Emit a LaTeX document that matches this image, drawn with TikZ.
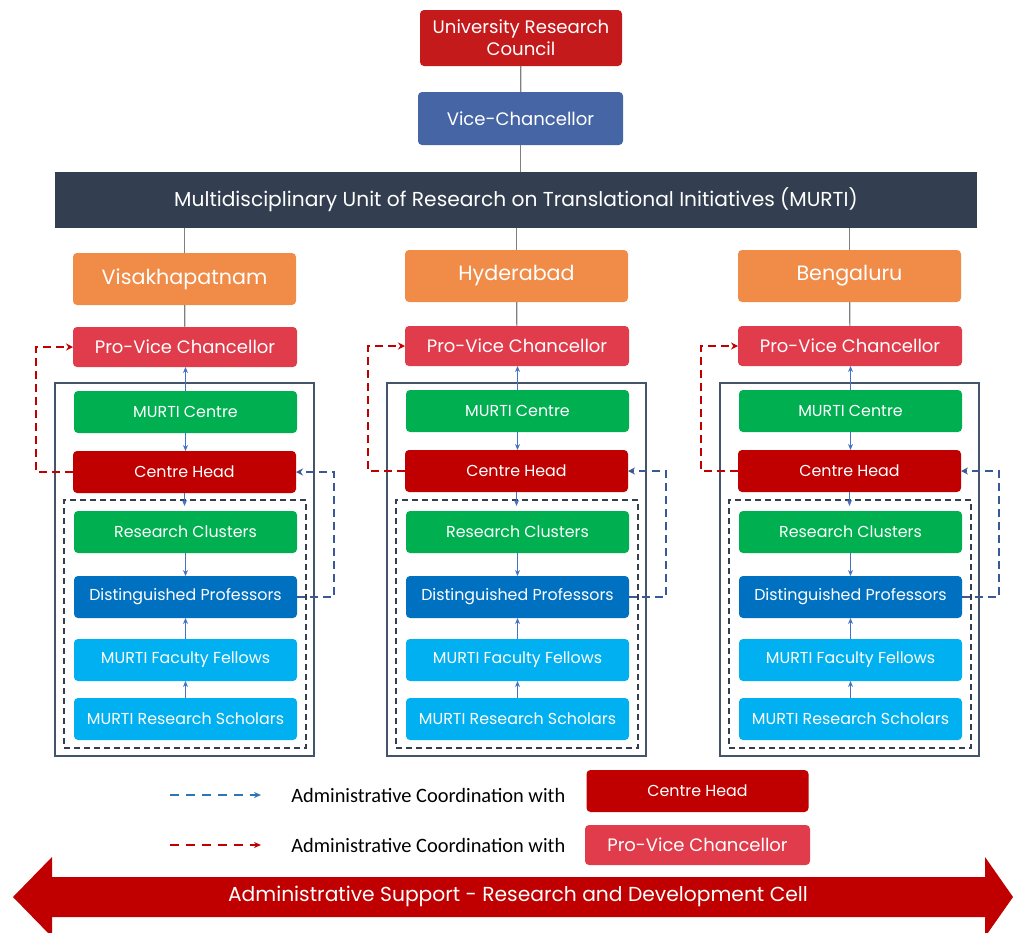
\documentclass[tikz,border=0pt]{standalone}
\usepackage{fontspec}
\setmainfont{Poppins}
\newfontfamily\legfont{Carlito}
\usetikzlibrary{arrows.meta}
\definecolor{urcred}{HTML}{C41A1B}
\definecolor{vcblue}{HTML}{4565A5}
\definecolor{barslate}{HTML}{333F50}
\definecolor{cityorange}{HTML}{F08C48}
\definecolor{pvcred}{HTML}{E03C4B}
\definecolor{mgreen}{HTML}{00B050}
\definecolor{chred}{HTML}{C00000}
\definecolor{dpblue}{HTML}{0070C0}
\definecolor{lblue}{HTML}{00B0F0}
\definecolor{outerline}{HTML}{44546A}
\definecolor{arrblue}{HTML}{4472C4}
\definecolor{dashblue}{HTML}{3A5894}
\definecolor{legblue}{HTML}{2E75B6}
\definecolor{greyline}{HTML}{7F7F7F}
\begin{document}
\begin{tikzpicture}[x=0.75pt,y=-0.75pt,
  box/.style={rounded corners=3pt, inner sep=0pt, outer sep=0pt, text=white, align=center},
  smallbox/.style={box, minimum width=167.25pt, minimum height=31.5pt, font=\fontsize{11.9}{14}\selectfont},
  greyconn/.style={draw=greyline, line width=0.9pt},
  sarr/.style={draw=arrblue, line width=0.75pt, -{Stealth[length=4.5pt,width=3.75pt]}},
  reddash/.style={draw=chred, line width=1.5pt, dash pattern=on 6pt off 3.75pt, -{Stealth[length=5.25pt,width=5.25pt]}},
  bluedash/.style={draw=dashblue, line width=1.5pt, dash pattern=on 6pt off 3.75pt, -{Stealth[length=5.25pt,width=5.25pt]}},
  outerbox/.style={draw=outerline, line width=1.125pt, inner sep=0pt, outer sep=0pt},
  innerbox/.style={draw=barslate, line width=1.125pt, dash pattern=on 4.5pt off 3pt, inner sep=0pt, outer sep=0pt},
]
\useasboundingbox (0,0) rectangle (1013,932);
\clip (0,0) rectangle (1013,932);

% top chain
\node[box, fill=urcred, minimum width=151.5pt, minimum height=42pt, font=\fontsize{13.6}{16.5}\selectfont] (urc) at (521,38) {University Research\\Council};
\node[box, fill=vcblue, minimum width=153.75pt, minimum height=39.75pt, font=\fontsize{13.55}{15}\selectfont] (vc) at (520.5,118.5) {Vice-Chancellor};
\node[box, rounded corners=0pt, fill=barslate, minimum width=691.5pt, minimum height=42pt, font=\fontsize{15.15}{18}\selectfont] (bar) at (516,200) {Multidisciplinary Unit of Research on Translational Initiatives (MURTI)};
\draw[greyconn] (urc) -- (vc);
\draw[greyconn] (vc.south) -- (vc.south |- bar.north);

\foreach \c/\cx/\dy/\city/\cy in {a/184.5/1/Visakhapatnam/279, b/516.5/0/Hyderabad/276, c/849.5/0/Bengaluru/276} {
  \node[box, fill=cityorange, minimum width=167.25pt, minimum height=39pt, font=\fontsize{15.5}{18}\selectfont] (city\c) at (\cx,\cy) {\city};
  \node[box, fill=pvcred, minimum width=168pt, minimum height=30pt, font=\fontsize{13.5}{15}\selectfont] (pvc\c) at (\cx+0.5,346+\dy) {Pro-Vice Chancellor};
  \node[outerbox, minimum width=194.25pt, minimum height=279.75pt] (outer\c) at (\cx,569.5) {};
  \node[innerbox, minimum width=181.5pt, minimum height=186pt] (dbox\c) at (\cx+0.5,624) {};
  \node[smallbox, fill=mgreen] (mc\c) at (\cx+1,411+\dy) {MURTI Centre};
  \node[smallbox, fill=chred] (ch\c) at (\cx,471+\dy) {Centre Head};
  \node[smallbox, fill=mgreen] (rc\c) at (\cx+1,532) {Research Clusters};
  \node[smallbox, fill=dpblue] (dp\c) at (\cx+1,597) {Distinguished Professors};
  \node[smallbox, fill=lblue] (mff\c) at (\cx+1,660) {MURTI Faculty Fellows};
  \node[smallbox, fill=lblue] (mrs\c) at (\cx+1,719) {MURTI Research Scholars};
  \coordinate (rx\c) at (\cx-148.5,400);
  \coordinate (bx\c) at (\cx+149.5,530);
  \draw[greyconn] (city\c.north) -- (city\c.north |- bar.south);
  \draw[greyconn] (city\c) -- (pvc\c);
  \draw[sarr] (mc\c) -- (mc\c |- pvc\c.south);
  \draw[sarr] (mc\c) -- (mc\c |- ch\c.north);
  \draw[sarr, shorten >=-4.5pt] (ch\c.south) -- (ch\c.south |- dbox\c.north);
  \draw[sarr] (rc\c) -- (dp\c);
  \draw[sarr] (mff\c) -- (dp\c);
  \draw[sarr] (mrs\c) -- (mff\c);
  \draw[reddash] (ch\c.west) -| (rx\c) |- (pvc\c.west);
  \draw[bluedash] (dp\c.east) -| (bx\c) |- (ch\c.east);
}

% legend
\coordinate (lb1) at (170,795);
\coordinate (lb2) at (261,795);
\coordinate (lr1) at (170,845);
\coordinate (lr2) at (261,845);
\draw[draw=legblue, line width=1.6pt, dash pattern=on 6.75pt off 5.25pt, -{Stealth[length=5.25pt,width=4.5pt]}] (lb1) -- (lb2);
\draw[draw=chred, line width=1.6pt, dash pattern=on 6.75pt off 5.25pt, -{Stealth[length=5.25pt,width=4.5pt]}] (lr1) -- (lr2);
\node[anchor=west, inner sep=0pt, font=\legfont\fontsize{15.3}{18}\selectfont] (lt1) at (291,795) {Administrative Coordination with};
\node[anchor=west, inner sep=0pt, font=\legfont\fontsize{15.3}{18}\selectfont] (lt2) at (291,845) {Administrative Coordination with};
\node[box, fill=chred, minimum width=166.5pt, minimum height=31.5pt, font=\fontsize{11.9}{14}\selectfont] (lch) at (697.5,791) {Centre Head};
\node[box, fill=pvcred, minimum width=168.75pt, minimum height=30pt, font=\fontsize{13.5}{15}\selectfont] (lpvc) at (697.5,845) {Pro-Vice Chancellor};

% bottom double arrow
\fill[chred] (13,897) -- (52,857) -- (52,877) -- (985,877) -- (985,857) -- (1013,897) -- (985,937) -- (985,917) -- (52,917) -- (52,937) -- cycle;
\node[text=white, inner sep=0pt, font=\fontsize{15.2}{18}\selectfont] (adm) at (518,896) {Administrative Support - Research and Development Cell};
\end{tikzpicture}
\end{document}
